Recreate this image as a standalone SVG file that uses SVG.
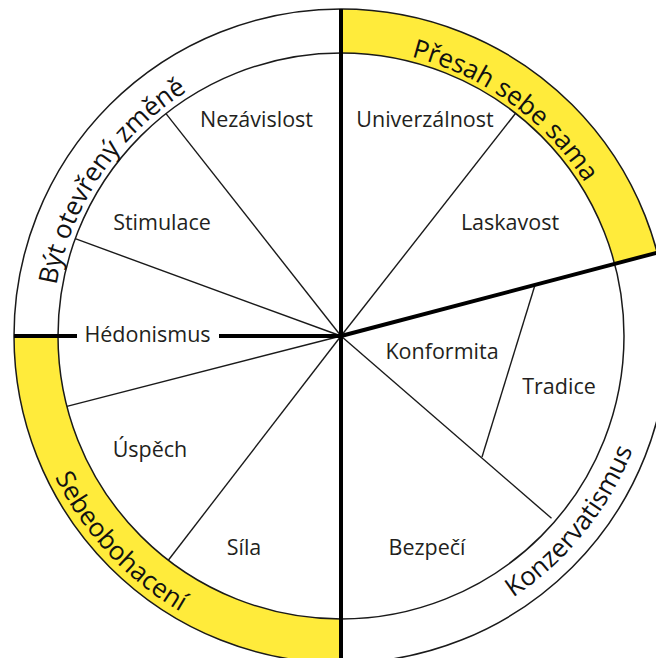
<svg xmlns="http://www.w3.org/2000/svg" xmlns:xlink="http://www.w3.org/1999/xlink" width="656" height="658" viewBox="0 0 656 658">
  <style>
    .band { fill: #ffeb3b; stroke: none; }
    .ring { fill: none; stroke: #1a1a1a; stroke-width: 1.5; }
    .thin { fill: none; stroke: #1a1a1a; stroke-width: 1.4; stroke-linecap: butt; }
    .thick { fill: none; stroke: #000; stroke-width: 4; stroke-linecap: butt; }
    .lbl { font-family: "Open Sans", "Noto Sans", "Liberation Sans", sans-serif; font-size: 21.5px; fill: #231f20; text-anchor: middle; }
    .arc { font-family: "Open Sans", "Noto Sans", "Liberation Sans", sans-serif; font-size: 26px; fill: #111; text-anchor: middle; }
  </style>
  <defs>
    <!-- baseline arcs for the group titles, centred on (341,336) -->
    <path id="pTop1" d="M104.0,163.8 A293,293 0 0 1 578.0,508.2"/>
    <path id="pTop2" d="M177.2,578.9 A293,293 0 0 1 504.8,93.1"/>
    <path id="pBot1" d="M123.4,102.7 A319,319 0 0 0 558.6,569.3"/>
    <path id="pBot2" d="M140.9,583.1 A318,318 0 0 0 541.1,88.9"/>
  </defs>

  <rect width="656" height="658" fill="#fff"/>

  <!-- highlighted outer bands -->
  <g id="bands">
    <path class="band" d="M341,9 A327,327 0 0 1 657.2,252.7 L614.7,263.9 A283,283 0 0 0 341,53 Z"/>
    <path class="band" d="M14,336 A327,327 0 0 0 341,663 L341,619 A283,283 0 0 1 58,336 Z"/>
  </g>

  <g id="rings">
    <circle class="ring" cx="341" cy="336" r="327"/>
    <circle class="ring" cx="341" cy="336" r="283"/>
  </g>

  <!-- sector dividers -->
  <g id="connectors">
    <line class="thin" x1="341" y1="336" x2="166.0" y2="113.6"/>
    <line class="thin" x1="341" y1="336" x2="75.2" y2="238.7"/>
    <line class="thin" x1="341" y1="336" x2="66.9" y2="406.4"/>
    <line class="thin" x1="341" y1="336" x2="168.3" y2="560.2"/>
    <line class="thin" x1="341" y1="336" x2="515.6" y2="113.3"/>
    <line class="thin" x1="341" y1="336" x2="551.5" y2="518.3"/>
    <line class="thin" x1="535" y1="285" x2="482" y2="457"/>
    <path class="thick" d="M341,9 V660"/>
    <path class="thick" d="M14,336 H77 M219,336 H341"/>
    <path class="thick" d="M341,336 L657.2,252.7"/>
  </g>

  <!-- value sectors -->
  <g id="nezavislost"><text class="lbl" x="256.5" y="127">Nezávislost</text></g>
  <g id="stimulace"><text class="lbl" x="162" y="230">Stimulace</text></g>
  <g id="hedonismus"><text class="lbl" x="147.5" y="341.5">Hédonismus</text></g>
  <g id="uspech"><text class="lbl" x="150" y="457">Úspěch</text></g>
  <g id="sila"><text class="lbl" x="244" y="555">Síla</text></g>
  <g id="univerzalnost"><text class="lbl" x="425" y="127">Univerzálnost</text></g>
  <g id="laskavost"><text class="lbl" x="510" y="230">Laskavost</text></g>
  <g id="konformita"><text class="lbl" x="442" y="359">Konformita</text></g>
  <g id="tradice"><text class="lbl" x="559" y="394">Tradice</text></g>
  <g id="bezpeci"><text class="lbl" x="427" y="555">Bezpečí</text></g>

  <!-- higher-order groups -->
  <g id="presah"><text class="arc"><textPath xlink:href="#pTop1" href="#pTop1" startOffset="50%">Přesah sebe sama</textPath></text></g>
  <g id="otevreny"><text class="arc"><textPath xlink:href="#pTop2" href="#pTop2" startOffset="50%">Být otevřený změně</textPath></text></g>
  <g id="sebeobohaceni"><text class="arc"><textPath xlink:href="#pBot1" href="#pBot1" startOffset="50%">Sebeobohacení</textPath></text></g>
  <g id="konzervatismus"><text class="arc"><textPath xlink:href="#pBot2" href="#pBot2" startOffset="50%">Konzervatismus</textPath></text></g>
</svg>
